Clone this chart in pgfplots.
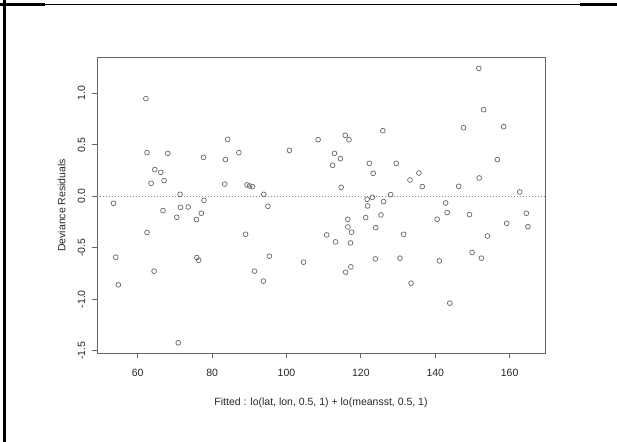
\documentclass[border=0pt]{standalone}
\usepackage{pgfplots}
\pgfplotsset{compat=1.18}
\usepackage{fontspec}
\setmainfont{Liberation Sans}

% deviance residuals against fitted values
\pgfplotstableread{
fit    res
53.5  -0.068
54.1  -0.592
54.8  -0.860
62.2   0.948
62.5   0.424
62.5  -0.352
63.6   0.126
64.4  -0.727
64.6   0.259
66.2   0.233
66.8  -0.139
67.1   0.152
68.1   0.417
70.5  -0.204
70.9  -1.423
71.4   0.019
71.5  -0.107
73.6  -0.104
75.8  -0.226
75.9  -0.595
76.4  -0.621
77.1  -0.165
77.7   0.378
77.8  -0.039
83.4   0.119
83.6   0.356
84.2   0.553
87.2   0.424
89.0  -0.369
89.4   0.110
90.1   0.100
90.9   0.094
91.4  -0.727
93.8  -0.824
93.9   0.019
95.0  -0.097
95.4  -0.582
100.8  0.446
104.6 -0.640
108.5  0.550
110.8 -0.375
112.4  0.301
112.9  0.417
113.2 -0.443
114.5  0.366
114.7  0.087
115.8  0.592
115.9 -0.737
116.5 -0.223
116.5 -0.298
116.8  0.550
117.2 -0.453
117.3 -0.685
117.5 -0.349
121.3 -0.207
121.7 -0.029
121.8 -0.094
122.3  0.320
123.1 -0.010
123.3  0.223
123.9 -0.608
124.0 -0.304
125.4 -0.181
125.9  0.637
126.1 -0.051
128.0  0.016
129.5  0.320
130.5 -0.601
131.5 -0.369
133.2  0.158
133.5 -0.844
135.6  0.226
136.5  0.094
140.5 -0.223
141.1 -0.627
142.8 -0.065
143.2 -0.158
143.9 -1.038
146.3  0.097
147.6  0.666
149.2 -0.178
149.9 -0.546
151.7  1.242
151.8  0.178
152.4 -0.601
153.0  0.841
154.0 -0.385
156.7  0.356
158.4  0.676
159.2 -0.262
162.7  0.042
164.5 -0.165
164.9 -0.294
}\residuals

\begin{document}
\begin{tikzpicture}
\useasboundingbox (0bp,0bp) rectangle (617bp,442bp);
% window frame
\draw[line width=1bp] (0bp,437.5bp) -- (617bp,437.5bp);
\draw[line width=2.7bp] (0bp,437.4bp) -- (45bp,437.4bp);
\draw[line width=2.7bp] (580bp,437.4bp) -- (617bp,437.4bp);
\draw[line width=3bp] (4.5bp,0bp) -- (4.5bp,442bp);

\begin{axis}[
  at={(97bp,88.7bp)}, anchor=south west,
  scale only axis, width=448bp, height=296bp,
  xmin=49.06, xmax=169.5, ymin=-1.525, ymax=1.35,
  axis line style={black!60, line width=0.8bp},
  tick style={black!60, line width=0.8bp},
  tick align=outside, tick pos=left, major tick length=5bp,
  xtick={60,80,100,120,140,160},
  xticklabels={60,80,100,120,140,160},
  ytick={-1.5,-1,-0.5,0,0.5,1},
  yticklabels={-1.5,-1.0,-0.5,0.0,0.5,1.0},
  /pgf/number format/assume math mode=true,
  every tick label/.append style={font=\fontsize{10.5bp}{12bp}\selectfont, text=black!85},
  xticklabel style={anchor=north, inner xsep=0pt, inner ysep=10.3bp},
  yticklabel style={rotate=90, anchor=south, inner xsep=0pt, inner ysep=6.5bp},
  xlabel={Fitted : lo(lat, lon, 0.5, 1) + lo(meansst, 0.5, 1)},
  ylabel={Deviance Residuals},
  label style={font=\fontsize{10.5bp}{12bp}\selectfont, text=black!85},
  xlabel style={at={(axis description cs:0.5,-0.1774)}, anchor=base, inner sep=0pt},
  ylabel style={at={(axis description cs:-0.0708,0.5)}, anchor=base, inner sep=0pt},
  clip=false,
]
\addplot[black!45, line width=0.8bp, dash pattern=on 1bp off 2bp] coordinates {(49.06,0) (169.5,0)};
\addplot[only marks, mark=o, mark size=2.4bp, mark options={black!60, line width=0.7bp}] table[x=fit, y=res] {\residuals};
\end{axis}
\end{tikzpicture}
\end{document}
